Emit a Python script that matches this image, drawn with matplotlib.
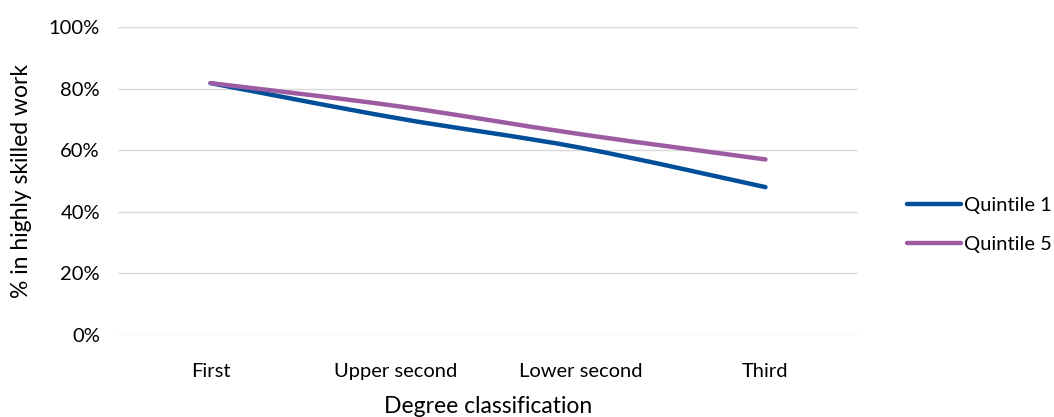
import matplotlib.pyplot as plt
from matplotlib.path import Path
from matplotlib.patches import PathPatch
from matplotlib.lines import Line2D

plt.rcParams['font.family'] = ['Lato', 'DejaVu Sans']

categories = ['First', 'Upper second', 'Lower second', 'Third']
quintile_1 = [0.818, 0.705, 0.608, 0.48]
quintile_5 = [0.818, 0.744, 0.652, 0.57]
series_names = ['Quintile 1', 'Quintile 5']
colors = ['#004f98', '#9c5ba3']


def smooth_path(xs, ys, t=1/6):
    # Catmull-Rom style bezier, like spreadsheet "smoothed line"
    verts = [(xs[0], ys[0])]
    codes = [Path.MOVETO]
    n = len(xs)
    for i in range(n - 1):
        x0, y0 = (xs[i - 1], ys[i - 1]) if i > 0 else (xs[i], ys[i])
        x1, y1 = xs[i], ys[i]
        x2, y2 = xs[i + 1], ys[i + 1]
        x3, y3 = (xs[i + 2], ys[i + 2]) if i + 2 < n else (x2, y2)
        c1 = (x1 + (x2 - x0) * t, y1 + (y2 - y0) * t)
        c2 = (x2 - (x3 - x1) * t, y2 - (y3 - y1) * t)
        verts += [c1, c2, (x2, y2)]
        codes += [Path.CURVE4] * 3
    return Path(verts, codes)


fig = plt.figure(figsize=(10.54, 4.17), dpi=100)
ax = fig.add_axes([0.112, 0.197, 0.702, 0.738])

x = list(range(len(categories)))
handles = []
for vals, name, c in zip([quintile_1, quintile_5], series_names, colors):
    patch = PathPatch(smooth_path(x, vals), facecolor='none', edgecolor=c,
                      linewidth=3.2, capstyle='round', joinstyle='round', zorder=3)
    ax.add_patch(patch)
    handles.append(Line2D([0], [0], color=c, linewidth=3.2, solid_capstyle='round', label=name))

ax.set_xlim(-0.5, len(categories) - 0.5)
ax.set_ylim(0, 1.0)
ax.set_yticks([0, 0.2, 0.4, 0.6, 0.8, 1.0])
ax.set_yticklabels(['0%', '20%', '40%', '60%', '80%', '100%'])
ax.set_xticks(x)
ax.set_xticklabels(categories)
ax.grid(axis='y', color='#d9d9d9', linewidth=1)
ax.set_axisbelow(True)
for s in ax.spines.values():
    s.set_visible(False)
ax.tick_params(length=0, labelsize=14.5, colors='#000000')
ax.tick_params(axis='x', pad=20)
ax.tick_params(axis='y', pad=13)

ax.set_xlabel('Degree classification', fontsize=16.5, labelpad=12)
ax.set_ylabel('% in highly skilled work', fontsize=16.5, labelpad=12)

fig.legend(handles=handles, loc='center left', bbox_to_anchor=(0.843, 0.46),
           frameon=False, fontsize=14.5, handlelength=2.7, handletextpad=0.15,
           labelspacing=1.1)

fig.savefig('out.png', dpi=100)
